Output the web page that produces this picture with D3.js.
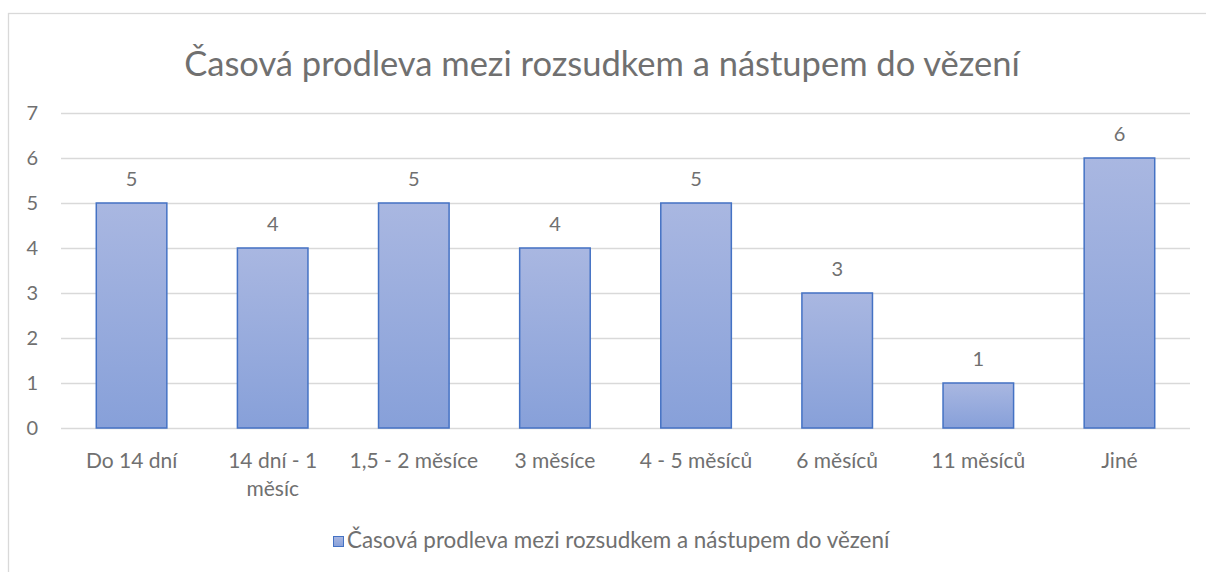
<!DOCTYPE html>
<html lang="cs">
<head>
<meta charset="UTF-8">
<title>Časová prodleva</title>
<script src="https://d3js.org/d3.v7.min.js"></script>
<style>
  body { margin: 0; background: #fff; }
  svg text { font-family: Lato, "Open Sans", sans-serif; fill: #707070; }
</style>
</head>
<body>
<div id="chart"></div>
<script>
// data
const categories = ["Do 14 dní", "14 dní - 1 měsíc", "1,5 - 2 měsíce", "3 měsíce", "4 - 5 měsíců", "6 měsíců", "11 měsíců", "Jiné"];
const values = [5, 4, 5, 4, 5, 3, 1, 6];
const yTicks = [0, 1, 2, 3, 4, 5, 6, 7];
const title = "Časová prodleva mezi rozsudkem a nástupem do vězení";
const seriesName = "Časová prodleva mezi rozsudkem a nástupem do vězení";

const width = 1206, height = 572;
const plot = { left: 61, right: 1190, top: 113, bottom: 428 };

const svg = d3.select("#chart").append("svg")
    .attr("width", width)
    .attr("height", height);

const defs = svg.append("defs");
const grad = defs.append("linearGradient")
    .attr("id", "barFill")
    .attr("x1", 0).attr("y1", 0).attr("x2", 0).attr("y2", 1);
grad.append("stop").attr("offset", "0%").attr("stop-color", "#a9b7e1");
grad.append("stop").attr("offset", "100%").attr("stop-color", "#87a0d9");

// outer border (runs off the right and bottom edges)
svg.append("rect")
    .attr("x", 8.5).attr("y", 13.5)
    .attr("width", 1210).attr("height", 570)
    .attr("fill", "none")
    .attr("stroke", "#d9d9d9")
    .attr("stroke-width", 1.3);

const x = d3.scaleBand()
    .domain(categories)
    .range([plot.left, plot.right])
    .paddingInner(0.5)
    .paddingOuter(0.25);

const y = d3.scaleLinear()
    .domain([0, 7])
    .range([plot.bottom, plot.top]);

// gridlines
svg.append("g")
    .selectAll("line")
    .data(yTicks)
    .enter().append("line")
    .attr("x1", plot.left)
    .attr("x2", plot.right)
    .attr("y1", d => Math.round(y(d)) + 0.5)
    .attr("y2", d => Math.round(y(d)) + 0.5)
    .attr("stroke", "#d9d9d9")
    .attr("stroke-width", 1.3);

// y tick labels
svg.append("g")
    .selectAll("text")
    .data(yTicks)
    .enter().append("text")
    .attr("x", 38)
    .attr("y", d => y(d))
    .attr("dy", "0.36em")
    .attr("text-anchor", "end")
    .attr("font-size", 20)
    .text(d => d);

// bars
svg.append("g")
    .selectAll("rect")
    .data(values)
    .enter().append("rect")
    .attr("x", (d, i) => x(categories[i]))
    .attr("y", d => y(d))
    .attr("width", x.bandwidth())
    .attr("height", d => y(0) - y(d))
    .attr("fill", "url(#barFill)")
    .attr("stroke", "#4472c4")
    .attr("stroke-width", 1.5);

// value labels
svg.append("g")
    .selectAll("text")
    .data(values)
    .enter().append("text")
    .attr("x", (d, i) => x(categories[i]) + x.bandwidth() / 2)
    .attr("y", d => y(d) - 17)
    .attr("text-anchor", "middle")
    .attr("font-size", 20)
    .text(d => d);

// category labels, wrapped like Excel
const wrapped = {"14 dní - 1 měsíc": ["14 dní - 1", "měsíc"]};
const catLabels = svg.append("g")
    .selectAll("text")
    .data(categories)
    .enter().append("text")
    .attr("x", d => x(d) + x.bandwidth() / 2)
    .attr("y", 468)
    .attr("text-anchor", "middle")
    .attr("font-size", 21);
catLabels.each(function(d) {
    const lines = wrapped[d] || [d];
    const t = d3.select(this);
    lines.forEach((l, i) => {
        t.append("tspan")
            .attr("x", x(d) + x.bandwidth() / 2)
            .attr("dy", i === 0 ? 0 : 28)
            .text(l);
    });
});

// title
svg.append("text")
    .attr("x", 602)
    .attr("y", 76)
    .attr("text-anchor", "middle")
    .attr("font-size", 34.5)
    .text(title);

// legend
const legend = svg.append("g");
legend.append("rect")
    .attr("x", 333.5).attr("y", 536.5)
    .attr("width", 10).attr("height", 10)
    .attr("fill", "url(#barFill)")
    .attr("stroke", "#4472c4");
legend.append("text")
    .attr("x", 347)
    .attr("y", 548)
    .attr("font-size", 22.4)
    .text(seriesName);
</script>
</body>
</html>
